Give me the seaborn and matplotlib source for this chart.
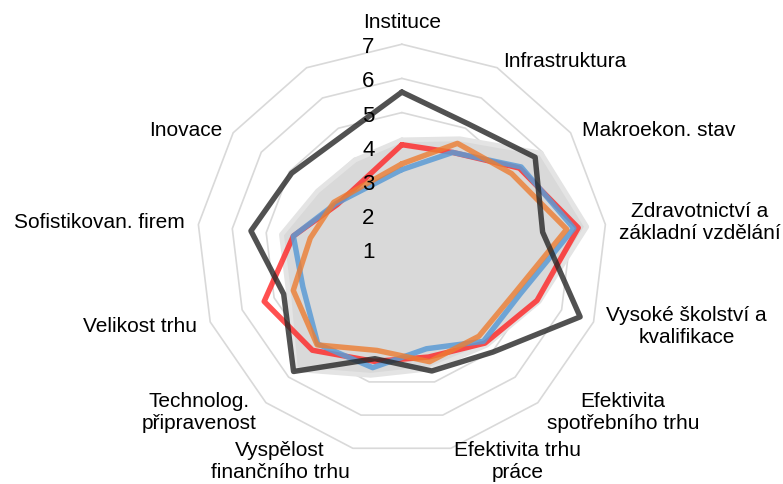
import numpy as np
import pandas as pd
import matplotlib
matplotlib.use("Agg")
import matplotlib.pyplot as plt
import seaborn as sns

# categories (13th spoke has no label and no values except the grey area)
categories = ["Instituce", "Infrastruktura", "Makroekon. stav",
              "Zdravotnictví a\nzákladní vzdělání", "Vysoké školství a\nkvalifikace",
              "Efektivita\nspotřebního trhu", "Efektivita trhu\npráce",
              "Vyspělost\nfinančního trhu", "Technolog.\npřipravenost",
              "Velikost trhu", "Sofistikovan. firem", "Inovace", ""]

nan = np.nan
gray_area = [4.2, 4.65, 5.95, 6.45, 5.3, 4.75, 4.6, 4.8, 5.7, 4.55, 4.55, 4.0, 3.95]
blue_vals = [3.33, 4.2, 5.24, 6.07, 4.7, 4.6, 4.0, 4.57, 4.71, 4.1, 4.2, 3.35, nan]
orange_vals = [3.5, 4.5, 4.9, 5.86, 4.55, 4.4, 4.39, 4.05, 4.74, 4.4, 3.7, 3.42, nan]
red_vals = [4.06, 4.2, 5.18, 6.2, 5.23, 4.67, 4.25, 4.38, 4.95, 5.31, 4.2, 3.3, nan]
dark_vals = [5.6, 5.15, 5.74, 5.15, 6.58, 5.02, 4.67, 4.3, 5.78, 4.7, 5.45, 4.92, nan]

levels = [2, 3, 4, 5, 6, 7]
tick_labels = ["1", "2", "3", "4", "5", "6", "7"]

sns.set_theme(style="white")
plt.rcParams["font.family"] = ["Liberation Sans", "DejaVu Sans"]

n = len(categories)
angles = np.linspace(0, 2 * np.pi, n, endpoint=False)


def closed(vals):
    # drop blanks and close the polygon (Excel "connect data points")
    df = pd.DataFrame({"theta": angles, "r": vals}).dropna()
    df = pd.concat([df, df.iloc[[0]].assign(theta=df.theta.iloc[0] + 2 * np.pi)])
    return df.reset_index(drop=True)


fig = plt.figure(figsize=(7.83, 4.84), dpi=100)
ax = fig.add_axes([0.2514, 0.0615, 0.5237, 0.8471], projection="polar")
ax.set_theta_zero_location("N")
ax.set_theta_direction(-1)
ax.set_ylim(1, 7)
ax.grid(False)
ax.set_xticks([])
ax.set_yticks([])
ax.spines["polar"].set_visible(False)

# polygon grid
for lv in levels:
    g = closed([lv] * n)
    ax.plot(g.theta, g.r, color="#d9d9d9", lw=1.2, zorder=1, clip_on=False)

# grey area
g = closed(gray_area)
ax.fill(g.theta, g.r, color="#d9d9d9", zorder=2)
ax.plot(g.theta, g.r, color="#e4e4e4", lw=3.5, zorder=2)

series = [
    (red_vals, "#ff2424", 0.8),
    (blue_vals, "#5b9bd5", 0.85),
    (orange_vals, "#ed7d31", 0.8),
    (dark_vals, "#262626", 0.8),
]
for i, (vals, col, a) in enumerate(series):
    d = closed(vals)
    sns.lineplot(data=d, x="theta", y="r", ax=ax, sort=False, estimator=None,
                 color=col, alpha=a, lw=3.9, zorder=3 + i, clip_on=False)
ax.set_xlabel("")
ax.set_ylabel("")

# radial value labels
for i, t in enumerate(tick_labels):
    ax.annotate(t, xy=(0, i + 1), xytext=(-24, -2.5), textcoords="offset points",
                ha="center", va="center", fontsize=16, color="black", zorder=10)

# category labels
for ang, lab in zip(angles, categories):
    s, c = np.sin(ang), np.cos(ang)
    if abs(s) < 0.01:
        ha, r = "center", 7.65
    elif s > 0:
        ha, r = "left", 7.4
    else:
        ha, r = "right", 7.4
    dy = -4 if (c > 0.3 and abs(s) > 0.01) else 0
    ax.annotate(lab, xy=(ang, r), xytext=(0, dy), textcoords="offset points",
                ha=ha, va="center", multialignment="center",
                fontsize=15, color="black", annotation_clip=False)

ax.set_ylim(1, 7)
fig.savefig("out.png", dpi=100)
